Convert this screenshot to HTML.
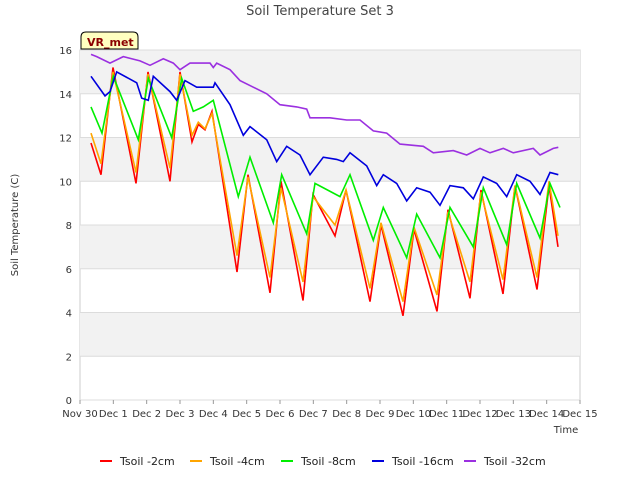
<!DOCTYPE html>
<html><head><meta charset="utf-8"><style>
body{margin:0;background:#fff;font-family:"Liberation Sans","DejaVu Sans",sans-serif;}
svg text{font-family:"DejaVu Sans","Liberation Sans",sans-serif;}
</style></head><body>
<svg id="c" width="640" height="480" viewBox="0 0 640 480"></svg>
<script>
const xTicks=["Nov 30","Dec 1","Dec 2","Dec 3","Dec 4","Dec 5","Dec 6","Dec 7","Dec 8","Dec 9","Dec 10","Dec 11","Dec 12","Dec 13","Dec 14","Dec 15"];
const yTicks=[0,2,4,6,8,10,12,14,16];
const seriesNames=["Tsoil -2cm","Tsoil -4cm","Tsoil -8cm","Tsoil -16cm","Tsoil -32cm"];
const seriesColors=["#ff0000","#ffa500","#00ee00","#0000dd","#9b30e0"];
const d2cm=[[0.33,11.75],[0.63,10.3],[0.99,15.2],[1.68,9.9],[2.04,15.0],[2.7,10.0],[3.0,15.0],[3.36,11.8],[3.55,12.6],[3.75,12.35],[3.96,13.2],[4.71,5.85],[5.04,10.3],[5.7,4.9],[6.03,10.0],[6.69,4.55],[6.99,9.4],[7.65,7.5],[7.98,9.6],[8.7,4.5],[9.03,8.0],[9.69,3.85],[10.02,7.8],[10.71,4.05],[11.04,8.7],[11.7,4.65],[12.03,9.6],[12.69,4.85],[13.05,9.8],[13.71,5.05],[14.07,9.8],[14.34,7.0]];
const d4cm=[[0.33,12.2],[0.63,10.8],[0.99,15.0],[1.68,10.4],[2.04,14.9],[2.7,10.6],[3.0,14.9],[3.36,12.1],[3.55,12.7],[3.75,12.4],[3.96,13.1],[4.71,6.6],[5.04,10.2],[5.7,5.6],[6.03,9.7],[6.69,5.4],[6.99,9.3],[7.65,8.0],[7.98,9.6],[8.7,5.1],[9.03,8.1],[9.69,4.5],[10.02,7.9],[10.71,4.8],[11.04,8.6],[11.7,5.4],[12.03,9.5],[12.69,5.5],[13.05,9.8],[13.71,5.6],[14.07,10.0],[14.34,7.5]];
const d8cm=[[0.33,13.4],[0.66,12.2],[1.0,14.8],[1.75,11.9],[2.05,14.7],[2.75,12.0],[3.05,14.7],[3.4,13.2],[3.7,13.4],[4.0,13.7],[4.75,9.3],[5.1,11.1],[5.8,8.1],[6.05,10.3],[6.8,7.6],[7.05,9.9],[7.8,9.3],[8.1,10.3],[8.8,7.3],[9.1,8.8],[9.8,6.5],[10.1,8.5],[10.8,6.5],[11.1,8.8],[11.8,7.0],[12.1,9.7],[12.8,7.1],[13.1,9.9],[13.8,7.4],[14.1,9.9],[14.4,8.8]];
const d16cm=[[0.33,14.8],[0.75,13.9],[0.9,14.1],[1.1,15.0],[1.7,14.5],[1.85,13.8],[2.05,13.7],[2.2,14.8],[2.7,14.1],[2.9,13.7],[3.15,14.6],[3.5,14.3],[4.0,14.3],[4.05,14.5],[4.5,13.5],[4.9,12.1],[5.1,12.5],[5.6,11.9],[5.9,10.9],[6.2,11.6],[6.6,11.2],[6.9,10.3],[7.3,11.1],[7.7,11.0],[7.9,10.9],[8.1,11.3],[8.6,10.7],[8.9,9.8],[9.1,10.3],[9.5,9.9],[9.8,9.1],[10.1,9.7],[10.5,9.5],[10.8,8.9],[11.1,9.8],[11.5,9.7],[11.8,9.2],[12.1,10.2],[12.5,9.9],[12.8,9.3],[13.1,10.3],[13.5,10.0],[13.8,9.4],[14.1,10.4],[14.35,10.3]];
const d32cm=[[0.33,15.8],[0.5,15.7],[0.9,15.4],[1.3,15.7],[1.8,15.5],[2.1,15.3],[2.5,15.6],[2.8,15.4],[3.0,15.1],[3.3,15.4],[3.9,15.4],[4.0,15.2],[4.1,15.4],[4.5,15.1],[4.8,14.6],[5.2,14.3],[5.6,14.0],[6.0,13.5],[6.5,13.4],[6.8,13.3],[6.9,12.9],[7.5,12.9],[8.0,12.8],[8.4,12.8],[8.8,12.3],[9.2,12.2],[9.6,11.7],[10.3,11.6],[10.6,11.3],[11.2,11.4],[11.6,11.2],[12.0,11.5],[12.3,11.3],[12.7,11.5],[13.0,11.3],[13.6,11.5],[13.8,11.2],[14.2,11.5],[14.35,11.55]];
const allData=[d2cm,d4cm,d8cm,d16cm,d32cm];
const L=80,R=580,T=50,B=400;
const X=d=>L+d*(R-L)/15, Y=v=>B-v*(B-T)/16;
const svg=document.getElementById('c');const NS="http://www.w3.org/2000/svg";
function mk(tag,at,txt){const e=document.createElementNS(NS,tag);for(const k in at)e.setAttribute(k,at[k]);if(txt!=null)e.textContent=txt;svg.appendChild(e);return e;}
let e;
e=mk('rect',{x:L,y:T,width:R-L,height:B-T,fill:'#fff',stroke:'#ccc'});


for(let v=2;v<16;v+=4){e=mk('rect',{x:L,y:Y(v+2),width:R-L,height:Y(v)-Y(v+2),fill:'#f2f2f2'});

}
yTicks.forEach(v=>{e=mk('line',{x1:L,x2:R,y1:Y(v),y2:Y(v),stroke:'#dcdcdc'});


e=mk('text',{x:L-8,y:Y(v)+4,'text-anchor':'end','font-size':10,fill:'#333'},v);

});
xTicks.forEach((t,i)=>{e=mk('line',{x1:X(i),x2:X(i),y1:B,y2:B+4,stroke:'#999'});


e=mk('text',{x:X(i),y:B+17,'text-anchor':'middle','font-size':10,fill:'#333'},t);

});
allData.forEach((d,i)=>{e=mk('polyline',{points:d.map(p=>X(p[0]).toFixed(1)+','+Y(p[1]).toFixed(1)).join(' '),fill:'none',stroke:seriesColors[i],'stroke-width':1.6});

});
e=mk('text',{x:320,y:15,'text-anchor':'middle','font-size':13,fill:'#444'},'Soil Temperature Set 3');


e=mk('text',{x:18,y:225,'text-anchor':'middle','font-size':10,fill:'#333',transform:'rotate(-90 18 225)'},'Soil Temperature (C)');


e=mk('text',{x:566,y:433,'text-anchor':'middle','font-size':10,fill:'#333'},'Time');


e=mk('path',{d:'M81,49 L81,37 Q81,32 86,32 L133,32 Q138,32 138,37 L138,49 Z',fill:'#ffffc0',stroke:'#000'});


e=mk('text',{x:87,y:46,'font-size':11,'font-weight':'bold',fill:'#8b0000'},'VR_met');


const legX=[100,190,281,372,464];
seriesNames.forEach((n,i)=>{e=mk('line',{x1:legX[i],x2:legX[i]+12,y1:461,y2:461,stroke:seriesColors[i],'stroke-width':2});


e=mk('text',{x:legX[i]+20,y:465,'font-size':11,fill:'#222'},n);

});
</script>
</body></html>
